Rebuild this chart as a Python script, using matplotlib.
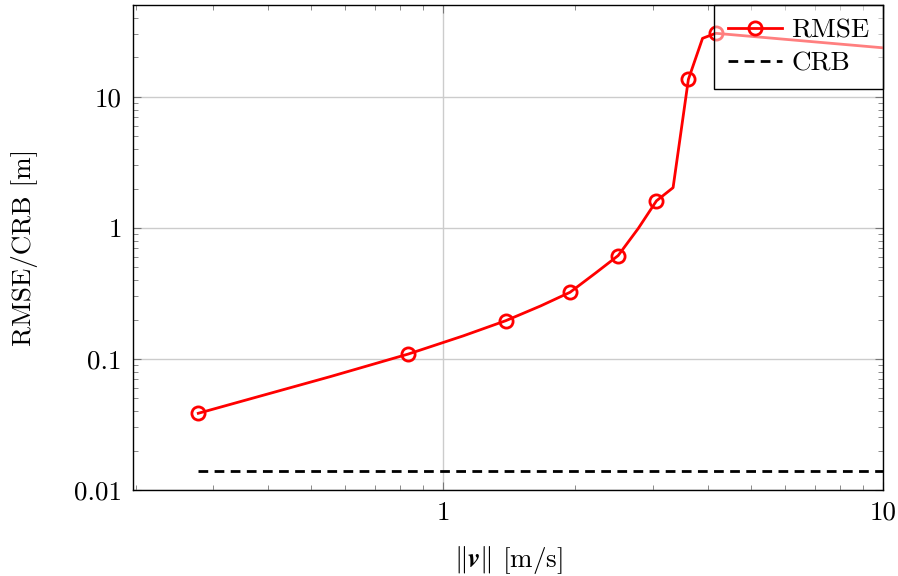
import numpy as np
import matplotlib
matplotlib.use("Agg")
import matplotlib.pyplot as plt
from matplotlib.ticker import FixedLocator, FixedFormatter, LogLocator, NullFormatter

plt.rcParams['font.family'] = 'serif'
plt.rcParams['font.serif'] = ['cmr10']
plt.rcParams['mathtext.fontset'] = 'cm'
plt.rcParams['axes.unicode_minus'] = False

# speed in km/h steps converted to m/s
speed_kmh = [1, 2, 3, 4, 5, 6, 7, 8, 9, 10, 11, 12, 13, 14, 15, 36]
speed = [k / 3.6 for k in speed_kmh]
rmse = [0.0385, 0.0735, 0.109, 0.150, 0.196, 0.254, 0.323, 0.453, 0.615,
        0.991, 1.61, 2.03, 13.6, 28.0, 30.6, 23.7]
crb = [0.01396] * len(speed)

ytick_vals = [0.01, 0.1, 1, 10]
ytick_labels = ['0.01', '0.1', '1', '10']
xtick_vals = [1, 10]
xtick_labels = ['1', '10']

FS = 19.5

fig = plt.figure(figsize=(8.98, 5.76), dpi=100)
ax = fig.add_axes([133/898, 1 - 490/576, (883-133)/898, (490-5)/576])

ax.set_xscale('log')
ax.set_yscale('log')

ax.plot(speed, rmse, color='red', lw=2.0, marker='o', markersize=9.5,
        markerfacecolor='none', markeredgewidth=2.0, markevery=2, label='RMSE', zorder=3)
ax.plot(speed, crb, color='black', lw=2.0, ls=(0, (3.5, 2.3)), label='CRB', zorder=3)

ax.set_xlim(0.1974, 10)
ax.set_ylim(0.01, 50.3)

ax.xaxis.set_major_locator(FixedLocator(xtick_vals))
ax.xaxis.set_major_formatter(FixedFormatter(xtick_labels))
ax.yaxis.set_major_locator(FixedLocator(ytick_vals))
ax.yaxis.set_major_formatter(FixedFormatter(ytick_labels))
ax.xaxis.set_minor_locator(LogLocator(base=10, subs=np.arange(2, 10), numticks=20))
ax.yaxis.set_minor_locator(LogLocator(base=10, subs=np.arange(2, 10), numticks=20))
ax.xaxis.set_minor_formatter(NullFormatter())
ax.yaxis.set_minor_formatter(NullFormatter())

ax.tick_params(which='both', direction='in', top=True, right=True, labelsize=FS,
               color='#777777')
ax.tick_params(which='major', length=6, width=0.8, pad=8)
ax.tick_params(which='minor', length=3.5, width=0.6)

ax.grid(True, which='major', color='#cccccc', lw=1.0, zorder=0)
ax.set_axisbelow(True)
for s in ax.spines.values():
    s.set_linewidth(1.0)
    s.set_color('black')

ax.set_xlabel(r'$\|\boldsymbol{v}\|$ [m/s]', fontsize=FS, labelpad=14)
ax.set_ylabel('RMSE/CRB [m]', fontsize=FS, labelpad=26)

leg = ax.legend(loc='upper right', fontsize=FS, frameon=True, fancybox=False,
                borderaxespad=0.0, handlelength=2.0, handletextpad=0.35,
                borderpad=0.5, labelspacing=0.35)
frame = leg.get_frame()
frame.set_alpha(None)
frame.set_facecolor((1, 1, 1, 0.5))
frame.set_edgecolor('black')
frame.set_linewidth(1.0)
leg.set_zorder(5)

fig.savefig('out.png', dpi=100)
